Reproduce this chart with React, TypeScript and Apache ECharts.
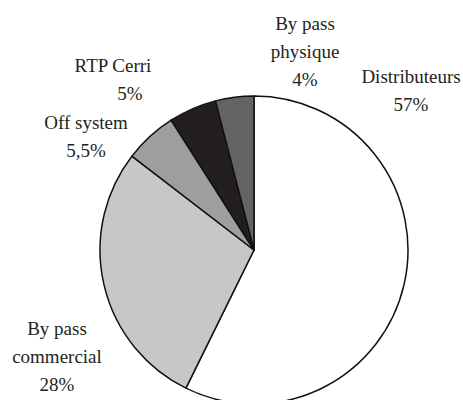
import React, { useEffect, useRef } from "react";
import * as echarts from "echarts";

const categories = ["Distributeurs", "By pass\ncommercial", "Off system", "RTP Cerri", "By pass\nphysique"];
const shares = [57, 28, 5.5, 5, 4];
const sliceColors = ["#ffffff", "#c6c7c9", "#9d9ea0", "#231f20", "#636466"];
const labelPos = [
  { x: 411, y: 90 },
  { x: 57, y: 356 },
  { x: 86, y: 136 },
  { x: 113, y: 79 },
  { x: 305, y: 51 },
];

const SERIF = "'Liberation Serif', 'Times New Roman', Times, serif";

export default function App() {
  const ref = useRef<HTMLDivElement>(null);
  useEffect(() => {
    document.body.style.margin = "0";
    if (!ref.current) return;
    const chart = echarts.init(ref.current, null, { renderer: "svg" });
    const fmt = (v: number) => String(v).replace(".", ",") + "%";
    const txt = { fontFamily: SERIF, fontSize: 19, lineHeight: 28, color: "#231f20" };
    chart.setOption({
      animation: false,
      backgroundColor: "#ffffff",
      textStyle: { fontFamily: SERIF },
      series: [
        {
          type: "pie",
          center: [254, 250],
          radius: 154,
          startAngle: 90,
          clockwise: true,
          avoidLabelOverlap: false,
          itemStyle: { borderColor: "#111", borderWidth: 1.5 },
          label: {
            show: true,
            ...txt,
            align: "center",
            formatter: (p: any) => {
              if (p.dataIndex === 3) {
                return "{a|" + p.name + "}\n{b|" + fmt(p.value) + "}";
              }
              return p.name.split("\n").map((s: string) => "{a|" + s + "}").join("\n") + "\n{a|" + fmt(p.value) + "}";
            },
            rich: {
              a: { ...txt },
              b: { ...txt, padding: [0, 0, 0, 34] },
            },
          },
          labelLine: { show: false },
          labelLayout: (params: any) => {
            const pos = labelPos[params.dataIndex];
            return { x: pos.x, y: pos.y, align: "center", verticalAlign: "middle" };
          },
          data: categories.map((name, i) => ({
            name,
            value: shares[i],
            itemStyle: { color: sliceColors[i] },
          })),
        },
      ],
    });
    return () => chart.dispose();
  }, []);
  return <div ref={ref} style={{ width: 463, height: 400 }} />;
}
